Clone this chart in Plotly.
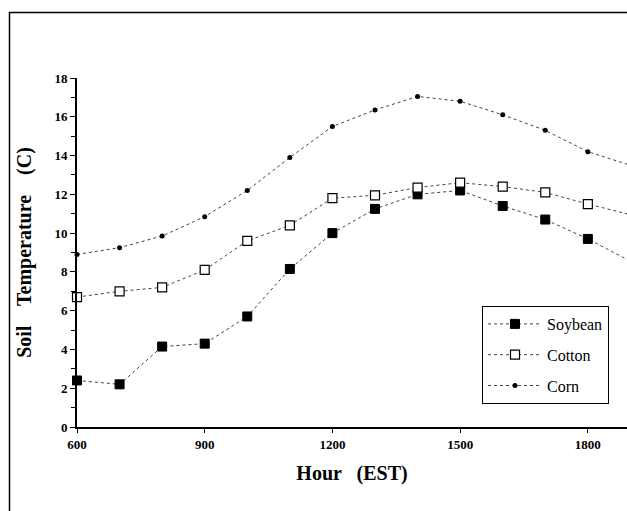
import plotly.graph_objects as go

hours = [600, 700, 800, 900, 1000, 1100, 1200, 1300, 1400, 1500, 1600, 1700, 1800, 1900]
soybean = [2.4, 2.2, 4.15, 4.3, 5.7, 8.15, 10.0, 11.25, 12.0, 12.2, 11.4, 10.7, 9.7, 8.55]
cotton = [6.7, 7.0, 7.2, 8.1, 9.6, 10.4, 11.8, 11.95, 12.35, 12.6, 12.4, 12.1, 11.5, 10.95]
corn = [8.9, 9.25, 9.85, 10.85, 12.2, 13.9, 15.5, 16.35, 17.05, 16.8, 16.1, 15.3, 14.2, 13.5]
x_ticks = [600, 900, 1200, 1500, 1800]
y_ticks = [0, 2, 4, 6, 8, 10, 12, 14, 16, 18]

serif = "Liberation Serif"

fig = go.Figure()
fig.add_trace(go.Scatter(
    x=hours, y=soybean, name="Soybean", mode="lines+markers", legendgroup="a",
    line=dict(color="#444", width=1, dash="dot"),
    marker=dict(symbol="square", size=9, color="black", line=dict(color="black", width=1)),
    cliponaxis=False,
))
fig.add_trace(go.Scatter(
    x=hours, y=cotton, name="Cotton", mode="lines+markers", legendgroup="b",
    line=dict(color="#444", width=1, dash="dot"),
    marker=dict(symbol="square", size=9, color="white", line=dict(color="black", width=1.2)),
    cliponaxis=False,
))
fig.add_trace(go.Scatter(
    x=hours, y=corn, name="Corn", mode="lines+markers", legendgroup="c",
    line=dict(color="#444", width=1, dash="dot"),
    marker=dict(symbol="circle", size=5, color="black"),
    cliponaxis=False,
))

L, T, W, H = 77, 78, 550, 349
def px_to_paper_x(px):
    return (px - L) / W
def px_to_paper_y(py):
    return 1 - (py - T) / H

fig.add_shape(type="rect", xref="paper", yref="paper",
              x0=px_to_paper_x(9.5), x1=px_to_paper_x(640),
              y0=px_to_paper_y(530), y1=px_to_paper_y(12.5),
              line=dict(color="black", width=1.5), layer="below")

fig.update_layout(
    width=627, height=511,
    margin=dict(l=L, r=627 - L - W, t=T, b=511 - T - H),
    paper_bgcolor="white", plot_bgcolor="white",
    showlegend=True,
    legend=dict(
        x=px_to_paper_x(482), y=px_to_paper_y(306), xanchor="left", yanchor="top",
        bordercolor="black", borderwidth=1, bgcolor="white",
        font=dict(family=serif, size=16, color="black"),
        traceorder="grouped", tracegroupgap=7, itemwidth=54,
    ),
    xaxis=dict(
        range=[600, 1892], tickvals=x_ticks, ticktext=[f"<b>{v}</b>" for v in x_ticks],
        showgrid=False, zeroline=False, showline=True, linecolor="black", linewidth=2,
        ticks="outside", ticklen=4, tickcolor="black",
        tickfont=dict(family=serif, size=13, color="black"),
        title=dict(text="<b>Hour   (EST)</b>", font=dict(family=serif, size=20, color="black"), standoff=15),
    ),
    yaxis=dict(
        range=[0, 18], tickvals=y_ticks, ticktext=[f"<b>{v}</b>" for v in y_ticks],
        showgrid=False, zeroline=False, showline=True, linecolor="black", linewidth=2,
        ticks="outside", ticklen=5, tickcolor="black",
        minor=dict(dtick=1, ticks="outside", ticklen=4, tickcolor="black"),
        tickfont=dict(family=serif, size=13, color="black"),
        title=dict(text="<b>Soil    Temperature    (C)</b>", font=dict(family=serif, size=20, color="black"), standoff=17),
    ),
)

fig.write_html("out.html")
